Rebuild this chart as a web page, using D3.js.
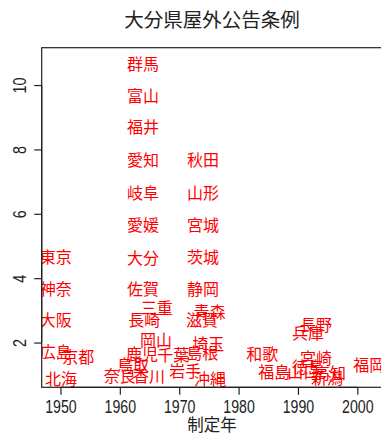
<!DOCTYPE html>
<html><head><meta charset="utf-8">
<script src="https://cdn.jsdelivr.net/npm/d3@7"></script>
<style>
html,body{margin:0;padding:0;background:#fff;}
svg{display:block;}
</style>
</head><body>
<svg id="chart" width="381" height="436"></svg>
<script>
// ---- data ----
const labels = ["北海","東京","神奈","大阪","広島","京都","奈良","鳥取","鹿児","長崎","佐賀","大分","愛媛","岐阜","愛知","福井","富山","群馬","香川","三重","岡山","千葉","岩手","秋田","山形","宮城","茨城","静岡","滋賀","青森","埼玉","島根","沖縄","和歌","福島","山口","徳島","兵庫","長野","宮崎","高知","新潟","福岡"];
const years  = [1950.1,1949.2,1949.2,1949.2,1949.2,1953.0,1960.0,1962.2,1963.75,1964.1,1963.9,1963.9,1963.9,1963.9,1963.9,1963.9,1963.9,1963.9,1964.9,1966.2,1966.1,1969.0,1971.0,1974.0,1974.0,1974.0,1974.0,1974.0,1973.85,1975.1,1974.9,1973.9,1975.2,1984.0,1986.0,1990.9,1991.7,1991.7,1993.05,1993.05,1995.4,1994.9,2002.0];
const yvals  = [0.90,4.70,3.71,2.73,1.75,1.58,0.98,1.34,1.69,2.73,3.71,4.66,5.68,6.69,7.70,8.73,9.70,10.70,0.98,3.11,2.11,1.65,1.15,7.70,6.69,5.68,4.69,3.70,2.73,2.98,1.99,1.71,0.90,1.69,1.12,1.12,1.27,2.34,2.58,1.54,1.07,0.92,1.34];
const xTicks = [1950,1960,1970,1980,1990,2000];
const yTicks = [2,4,6,8,10];
const title = "大分県屋外公告条例";
const xLabel = "制定年";

// ---- layout ----
const plot = {left:41.7, right:382.5, top:47.7, bottom:387.3};
const svg = d3.select("#chart");
const x = d3.scaleLinear().domain([1946.84, 2004.24]).range([plot.left, plot.right]);
const y = d3.scaleLinear().domain([0.61, 11.16]).range([plot.bottom, plot.top]);

const cjk = "'Noto Sans CJK JP','Noto Sans CJK SC',sans-serif";
const num = "'Liberation Sans Narrow','Liberation Sans',Arial,sans-serif";

svg.append("defs").append("clipPath").attr("id","clip")
  .append("rect").attr("x",plot.left).attr("y",plot.top)
  .attr("width",plot.right-plot.left).attr("height",plot.bottom-plot.top);

// labels
svg.append("g").attr("clip-path","url(#clip)")
  .selectAll("text").data(labels).join("text")
  .attr("x",(d,i)=>x(years[i]))
  .attr("y",(d,i)=>y(yvals[i]))
  .attr("text-anchor","middle")
  .attr("dominant-baseline","central")
  .attr("font-family",cjk)
  .attr("font-size",16)
  .attr("fill","#ff0000")
  .text(d=>d);

// box
svg.append("rect").attr("x",plot.left).attr("y",plot.top)
  .attr("width",plot.right-plot.left).attr("height",plot.bottom-plot.top)
  .attr("fill","none").attr("stroke","#222").attr("stroke-width",1.2);

// x axis
const gx = svg.append("g").attr("transform",`translate(0,${plot.bottom})`)
  .call(d3.axisBottom(x).tickValues(xTicks).tickSize(7.5).tickPadding(4).tickFormat(d3.format("d")));
gx.select(".domain").remove();
gx.append("line").attr("x1",x(xTicks[0])).attr("x2",x(xTicks[xTicks.length-1]))
  .attr("stroke","#222").attr("stroke-width",1.2);
gx.selectAll(".tick line").attr("stroke","#222").attr("stroke-width",1.2);
gx.selectAll(".tick text").attr("font-family",num).attr("font-size",17.5)
  .attr("fill","#222").attr("y",null).attr("dy",null)
  .attr("transform","translate(0,20)").attr("dominant-baseline","central")
  .attr("textLength",31.5).attr("lengthAdjust","spacingAndGlyphs");

// y axis
const gy = svg.append("g").attr("transform",`translate(${plot.left},0)`)
  .call(d3.axisLeft(y).tickValues(yTicks).tickSize(7.5).tickFormat(d3.format("d")));
gy.select(".domain").remove();
gy.append("line").attr("y1",y(yTicks[0])).attr("y2",y(yTicks[yTicks.length-1]))
  .attr("stroke","#222").attr("stroke-width",1.2);
gy.selectAll(".tick line").attr("stroke","#222").attr("stroke-width",1.2);
gy.selectAll(".tick text").attr("font-family",num).attr("font-size",17.5)
  .attr("fill","#222").attr("x",null).attr("dy",null)
  .attr("text-anchor","middle").attr("dominant-baseline","central")
  .attr("transform","translate(-21.5,0) rotate(-90)")
  .attr("textLength",d=>String(d).length*8).attr("lengthAdjust","spacingAndGlyphs");

// title
svg.append("text").attr("x",(plot.left+plot.right)/2).attr("y",18.7)
  .attr("text-anchor","middle").attr("dominant-baseline","central")
  .attr("font-family",cjk).attr("font-size",19.5).attr("fill","#222").text(title);

// x label
svg.append("text").attr("x",(plot.left+plot.right)/2).attr("y",423.5)
  .attr("text-anchor","middle").attr("dominant-baseline","central")
  .attr("font-family",cjk).attr("font-size",16.5).attr("fill","#222").text(xLabel);
</script>
</body></html>
